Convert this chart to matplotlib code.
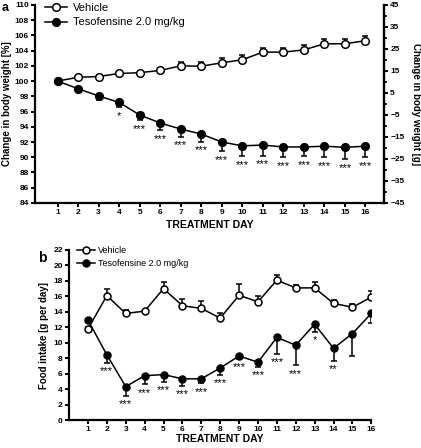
import matplotlib.pyplot as plt
from matplotlib.lines import Line2D
import numpy as np

plt.rcParams['font.family'] = ['Liberation Sans', 'DejaVu Sans']

days = np.arange(1, 17)

# panel a: body weight change [%]
veh_bw = [100.0, 100.5, 100.6, 101.0, 101.1, 101.4, 102.0, 101.95, 102.4, 102.8,
          103.8, 103.8, 104.1, 104.9, 104.9, 105.3]
veh_bw_err = [0.0, 0.2, 0.2, 0.2, 0.2, 0.3, 0.5, 0.5, 0.6, 0.6, 0.6, 0.6, 0.6, 0.6, 0.6, 0.6]
tes_bw = [100.0, 99.0, 98.05, 97.2, 95.55, 94.5, 93.7, 93.05, 92.0, 91.5,
          91.6, 91.35, 91.35, 91.45, 91.3, 91.45]
tes_bw_err = [0.0, 0.2, 0.5, 0.6, 0.7, 0.9, 1.0, 1.0, 1.2, 1.4, 1.4, 1.3, 1.2, 1.4, 1.5, 1.4]
sig_bw = ['', '', '', '*', '***', '***', '***', '***', '***', '***', '***', '***',
          '***', '***', '***', '***']

# panel b: food intake [g per day]
veh_fi = [11.8, 16.1, 13.8, 14.1, 17.0, 14.8, 14.45, 13.2, 16.15, 15.3, 18.1,
          17.1, 17.1, 15.1, 14.6, 15.9]
veh_fi_err = [0.3, 0.9, 0.5, 0.2, 0.8, 0.9, 0.9, 0.6, 1.5, 0.8, 0.7, 0.4, 0.7, 0.4, 0.4, 0.8]
tes_fi = [12.95, 8.45, 4.35, 5.75, 5.9, 5.35, 5.35, 6.75, 8.3, 7.5, 10.7, 9.7,
          12.4, 9.3, 11.2, 13.8]
tes_fi_err = [0.3, 1.0, 1.2, 1.1, 0.9, 0.9, 0.6, 0.9, 0.4, 0.6, 2.1, 2.6, 1.0, 1.6, 2.9, 1.3]
sig_fi = ['', '***', '***', '***', '***', '***', '***', '***', '***', '***', '***',
          '***', '*', '**', '', '']

labels = ['Vehicle', 'Tesofensine 2.0 mg/kg']

fig = plt.figure(figsize=(4.21, 4.48), dpi=100)


def style_axis(ax):
    for s in ['left', 'bottom', 'right']:
        ax.spines[s].set_linewidth(1.6)
    ax.tick_params(direction='out', width=1.4, length=3, labelsize=6, pad=1.5)
    for lab in ax.get_xticklabels() + ax.get_yticklabels():
        lab.set_fontweight('bold')


def draw_series(ax, y, err, face, up, ms):
    if up:
        yerr = [np.zeros(len(err)), err]
    else:
        yerr = [err, np.zeros(len(err))]
    ax.errorbar(days, y, yerr=yerr, fmt='-o', color='black', mfc=face, mec='black',
                ms=ms, mew=1.1, lw=1.1, capsize=2.5, elinewidth=1.1, capthick=1.1,
                zorder=3)


def handles(ms):
    return [Line2D([], [], color='black', lw=1.1, marker='o', mfc=f, mec='black',
                   ms=ms, mew=1.1) for f in ('white', 'black')]


# ---- panel a ----
ax1 = fig.add_axes([0.083, 0.547, 0.829, 0.442])
draw_series(ax1, veh_bw, veh_bw_err, 'white', True, 5.5)
draw_series(ax1, tes_bw, tes_bw_err, 'black', False, 5.5)
for d, v, e, s in zip(days, tes_bw, tes_bw_err, sig_bw):
    if s:
        ax1.text(d, v - e - 0.5, s, ha='center', va='top', fontsize=8)
ax1.set_xlim(-0.1, 16.9)
ax1.set_ylim(84, 110)
ax1.set_xticks(days)
ax1.set_yticks(np.arange(84, 111, 2))
ax1.spines['top'].set_visible(False)
ax1.set_ylabel('Change in body weight [%]', fontsize=7, fontweight='bold', labelpad=2)
ax1.set_xlabel('TREATMENT DAY', fontsize=7.5, fontweight='bold', labelpad=3)
style_axis(ax1)
ax1r = ax1.twinx()
ax1r.set_ylim(-45, 45)
ax1r.set_yticks(np.arange(-45, 46, 10))
ax1r.set_yticks(np.arange(-40, 41, 10), minor=True)
ax1r.spines['top'].set_visible(False)
ax1r.spines['left'].set_visible(False)
ax1r.spines['bottom'].set_visible(False)
style_axis(ax1r)
ax1r.tick_params(which='minor', direction='out', width=1.2, length=2)
ax1r.set_ylabel('Change in body weight [g]', fontsize=7, fontweight='bold',
                rotation=270, labelpad=12)
ax1.legend(handles(5.5), labels, loc='upper left', bbox_to_anchor=(0.0, 1.06),
           frameon=False, fontsize=8, handlelength=2.0, labelspacing=0.4,
           handletextpad=0.5)
fig.text(0.005, 0.975, 'a', fontsize=9, fontweight='bold')

# ---- panel b ----
ax2 = fig.add_axes([0.164, 0.062, 0.718, 0.380])
draw_series(ax2, veh_fi, veh_fi_err, 'white', True, 5)
draw_series(ax2, tes_fi, tes_fi_err, 'black', False, 5)
for d, v, e, s in zip(days, tes_fi, tes_fi_err, sig_fi):
    if s:
        ax2.text(d, v - e - 0.45, s, ha='center', va='top', fontsize=8)
ax2.set_xlim(0, 16)
ax2.set_ylim(0, 22)
ax2.set_xticks(days)
ax2.set_yticks(np.arange(0, 23, 2))
ax2.spines['top'].set_visible(False)
ax2.spines['right'].set_visible(False)
ax2.set_ylabel('Food intake [g per day]', fontsize=7, fontweight='bold', labelpad=3)
ax2.set_xlabel('TREATMENT DAY', fontsize=7.5, fontweight='bold', labelpad=1)
style_axis(ax2)
ax2.tick_params(axis='x', pad=1)
ax2.legend(handles(5), labels, loc='upper left', bbox_to_anchor=(0.0, 1.07),
           frameon=False, fontsize=6.5, handlelength=2.0, labelspacing=0.45,
           handletextpad=0.3)
fig.text(0.09, 0.415, 'b', fontsize=10, fontweight='bold')

fig.savefig('out.png', dpi=100)
